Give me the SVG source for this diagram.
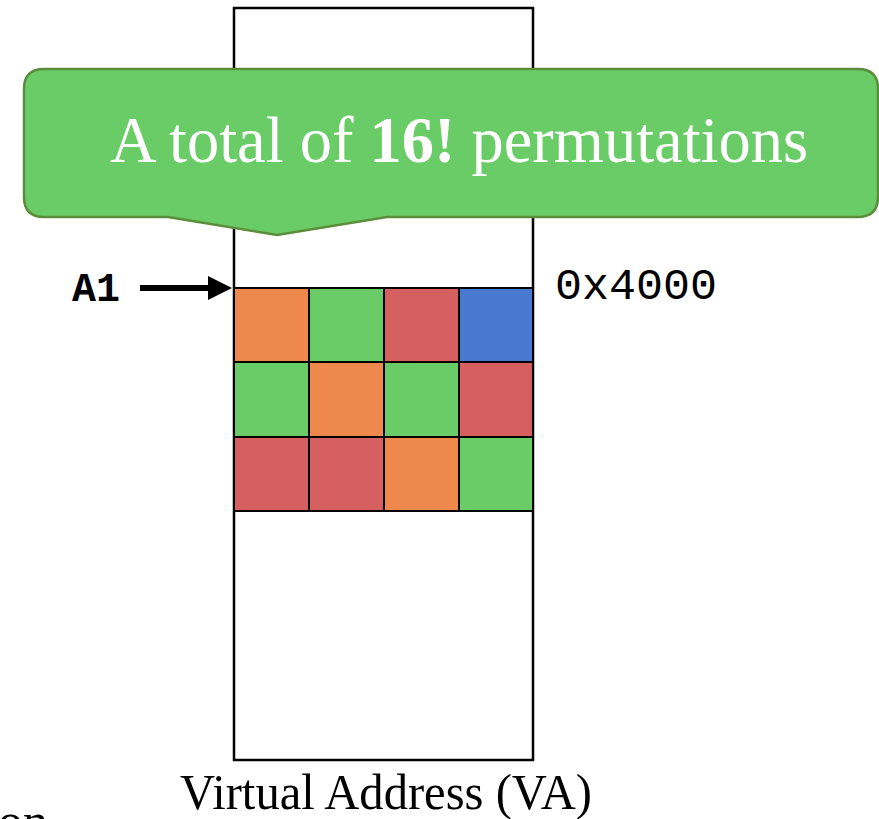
<svg xmlns="http://www.w3.org/2000/svg" width="879" height="819" viewBox="0 0 879 819">
  <style>
    .cell { stroke: #000; stroke-width: 2; }
    .orange { fill: #EE884D; }
    .green { fill: #6ACC67; }
    .red { fill: #D65F5F; }
    .blue { fill: #4878CF; }
    .serif { font-family: "Liberation Serif", "DejaVu Serif", serif; }
    .mono { font-family: "Liberation Mono", "DejaVu Sans Mono", monospace; }
  </style>

  <!-- memory column -->
  <g id="memory">
    <rect x="234" y="8" width="299" height="752" fill="#fff" stroke="#000" stroke-width="2.5"/>
  </g>

  <!-- blocks of the permuted array -->
  <g id="blocks">
    <rect class="cell orange" x="234" y="288" width="75" height="74"/>
    <rect class="cell green"  x="309" y="288" width="75" height="74"/>
    <rect class="cell red"    x="384" y="288" width="75" height="74"/>
    <rect class="cell blue"   x="459" y="288" width="74" height="74"/>

    <rect class="cell green"  x="234" y="362" width="75" height="75"/>
    <rect class="cell orange" x="309" y="362" width="75" height="75"/>
    <rect class="cell green"  x="384" y="362" width="75" height="75"/>
    <rect class="cell red"    x="459" y="362" width="74" height="75"/>

    <rect class="cell red"    x="234" y="437" width="75" height="74"/>
    <rect class="cell red"    x="309" y="437" width="75" height="74"/>
    <rect class="cell orange" x="384" y="437" width="75" height="74"/>
    <rect class="cell green"  x="459" y="437" width="74" height="74"/>
  </g>

  <!-- pointer label -->
  <g id="a1">
    <text class="mono" x="72" y="301" font-size="40" font-weight="bold" fill="#000">A1</text>
  </g>

  <g id="connectors">
    <line x1="140" y1="288" x2="210" y2="288" stroke="#000" stroke-width="6"/>
    <polygon points="208,276 232,288 208,300" fill="#000"/>
  </g>

  <g id="address">
    <text class="mono" x="555" y="299" font-size="45" fill="#000">0x4000</text>
  </g>

  <!-- callout -->
  <g id="callout">
    <path d="M 44,69 H 858 Q 878,69 878,89 V 197 Q 878,217 858,217 H 387 L 277,235 L 168,217 H 44 Q 24,217 24,197 V 89 Q 24,69 44,69 Z"
          fill="#6ACC67" stroke="#5B8E3A" stroke-width="2.5"/>
    <text class="serif" x="110" y="162" font-size="65" fill="#fff" textLength="698" lengthAdjust="spacingAndGlyphs">A total of <tspan font-weight="bold">16!</tspan> permutations</text>
  </g>

  <g id="caption">
    <text class="serif" x="180" y="809" font-size="50" fill="#000" textLength="412" lengthAdjust="spacingAndGlyphs">Virtual Address (VA)</text>
    <text class="serif" x="-2" y="838" font-size="50" fill="#000">on</text>
  </g>
</svg>
